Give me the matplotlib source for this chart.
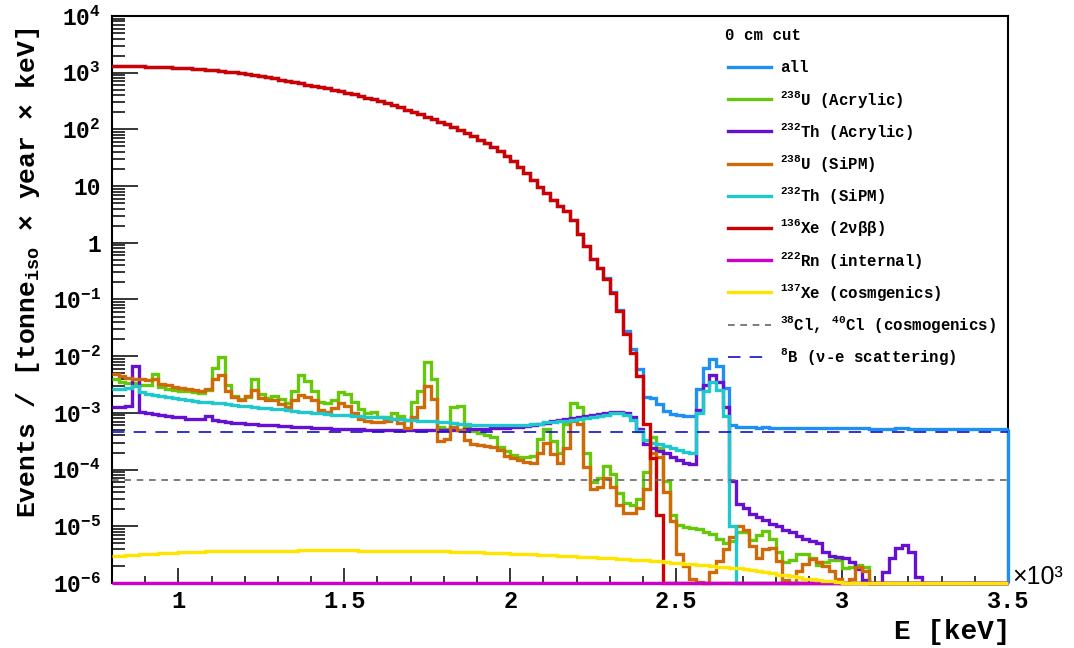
import numpy as np
import matplotlib
matplotlib.use("Agg")
import matplotlib.pyplot as plt
from matplotlib.lines import Line2D
from matplotlib.ticker import FixedLocator, MultipleLocator, FuncFormatter, LogLocator, NullFormatter

plt.rcParams['font.family'] = ['Liberation Mono', 'DejaVu Sans Mono']
plt.rcParams['font.weight'] = 'bold'
plt.rcParams['mathtext.fontset'] = 'custom'
plt.rcParams['mathtext.rm'] = 'Liberation Mono:bold'
plt.rcParams['mathtext.it'] = 'Liberation Mono:bold'
plt.rcParams['mathtext.bf'] = 'Liberation Mono:bold'
plt.rcParams['mathtext.default'] = 'rm'

# ---------------------------------------------------------------- binning (keV)
E_MIN, E_MAX, BIN_WIDTH = 800, 3500, 20
bin_edges = np.arange(E_MIN, E_MAX + BIN_WIDTH, BIN_WIDTH)
FLOOR = 1e-6

# ---------------------------------------------------------------- spectra
# events / (tonne_iso x year x keV), one value per 20 keV bin from 800 to 3500 keV
u238_acrylic_rate = [
    3.98e-3, 3.55e-3, 3.39e-3, 3.31e-3, 3.16e-3, 3.09e-3, 4.90e-3, 2.88e-3, 2.69e-3, 2.51e-3,
    2.45e-3, 2.40e-3, 2.34e-3, 2.24e-3, 2.51e-3, 6.3e-3, 9.5e-3, 3.16e-3, 2.0e-3, 1.74e-3,
    1.91e-3, 3.98e-3, 2.19e-3, 1.86e-3, 1.95e-3, 1.74e-3, 1.51e-3, 2.40e-3, 4.57e-3, 3.63e-3,
    2.40e-3, 1.58e-3, 1.48e-3, 1.66e-3, 2.29e-3, 2.19e-3, 1.58e-3, 1.17e-3, 1.0e-3, 1.02e-3,
    8.3e-4, 8.5e-4, 1.0e-3, 8.9e-4, 7.4e-4, 1.58e-3, 2.4e-3, 7.8e-3, 4.0e-3, 5.6e-4,
    5.2e-4, 1.26e-3, 1.32e-3, 5.6e-4, 4.7e-4, 4.4e-4, 4.0e-4, 3.7e-4, 2.5e-4, 2.1e-4,
    1.82e-4, 1.70e-4, 1.66e-4, 1.74e-4, 3.5e-4, 5.2e-4, 3.2e-4, 2.0e-4, 6.3e-4, 1.51e-3,
    1.26e-3, 2.0e-4, 6.0e-5, 7.1e-5, 1.17e-4, 8.3e-5, 3.8e-5, 2.6e-5, 2.4e-5, 3.0e-5,
    8.9e-5, 3.7e-4, 2.4e-4,
    6.3e-5, 1.58e-5, 1.05e-5, 9.8e-6, 9.3e-6, 8.9e-6, 7.9e-6, 7.2e-6, 6.0e-6, 5.0e-6, 5.6e-6, 7.9e-6,
    7.9e-6, 5.8e-6, 7.1e-6, 8.3e-6, 6.0e-6, 3.5e-6, 2.3e-6, 2.5e-6, 3.3e-6, 3.3e-6,
    2.8e-6, 2.1e-6, 2.3e-6, 2.5e-6, 2.5e-6, 1.82e-6, 1.9e-6, 2.1e-6, 1.95e-6,
] + [0.0] * 21

th232_acrylic_rate = [
    1.29e-3, 1.29e-3, 1.32e-3, 6.61e-3, 1.05e-3, 1.00e-3, 9.55e-4, 9.12e-4, 8.71e-4, 8.51e-4,
    8.32e-4, 7.94e-4, 7.76e-4, 7.94e-4, 8.71e-4, 7.41e-4, 7.08e-4, 6.92e-4, 6.76e-4, 6.61e-4,
    6.46e-4, 6.31e-4, 6.17e-4, 6.17e-4, 6.03e-4, 5.89e-4, 5.89e-4, 5.75e-4, 5.62e-4, 5.62e-4,
    5.50e-4, 5.37e-4, 5.37e-4, 5.25e-4, 5.25e-4, 5.13e-4, 5.13e-4, 5.13e-4, 5.01e-4, 5.01e-4,
    5.01e-4, 4.90e-4, 4.90e-4, 4.90e-4, 4.90e-4, 4.90e-4, 4.90e-4, 4.90e-4, 4.90e-4, 4.90e-4,
    5.01e-4, 5.01e-4, 5.01e-4, 5.13e-4, 5.13e-4, 5.25e-4, 5.25e-4, 5.37e-4, 5.37e-4, 5.50e-4,
    5.62e-4, 5.75e-4, 5.89e-4, 6.17e-4, 6.46e-4, 6.76e-4, 7.08e-4, 7.41e-4, 7.76e-4, 8.13e-4,
    8.32e-4, 8.71e-4, 9.12e-4, 9.55e-4, 1.00e-3, 1.02e-3, 1.05e-3, 1.00e-3, 8.32e-4, 5.25e-4,
    2.88e-4, 2.40e-4, 2.14e-4,
    1.95e-4, 1.70e-4, 1.48e-4, 1.29e-4, 1.26e-4, 1.12e-3, 3.16e-3, 4.68e-3, 3.55e-3, 1.29e-3, 6.3e-5, 2.51e-5,
    2.09e-5, 1.66e-5, 1.48e-5, 1.29e-5, 1.12e-5, 1.0e-5, 8.7e-6, 7.8e-6, 6.8e-6, 6.0e-6, 5.5e-6, 5.0e-6,
    3.5e-6, 3.0e-6, 2.9e-6, 2.75e-6, 2.3e-6, 1.74e-6, 1.12e-6, 0.0, 0.0, 1.58e-6,
    2.8e-6, 4.2e-6, 4.7e-6, 3.5e-6, 1.26e-6,
] + [0.0] * 13

u238_sipm_rate = [
    4.8e-3, 4.5e-3, 4.2e-3, 4.0e-3, 3.9e-3, 3.8e-3, 4.0e-3, 3.2e-3, 3.1e-3, 2.9e-3,
    2.75e-3, 2.63e-3, 2.5e-3, 2.4e-3, 2.63e-3, 4.0e-3, 4.7e-3, 2.4e-3, 1.9e-3, 1.7e-3,
    2.0e-3, 2.5e-3, 1.82e-3, 1.7e-3, 1.66e-3, 1.45e-3, 1.29e-3, 1.66e-3, 2.1e-3, 1.9e-3,
    1.66e-3, 1.12e-3, 1.05e-3, 1.2e-3, 1.51e-3, 1.32e-3, 1.0e-3, 7.9e-4, 7.2e-4, 6.9e-4,
    6.9e-4, 7.2e-4, 7.9e-4, 6.6e-4, 5.5e-4, 8.5e-4, 1.26e-3, 3.0e-3, 1.78e-3, 3.2e-4,
    3.5e-4, 5.6e-4, 5.0e-4, 3.3e-4, 2.8e-4, 2.7e-4, 2.6e-4, 2.5e-4, 2.2e-4, 1.74e-4,
    1.58e-4, 1.48e-4, 1.38e-4, 1.29e-4, 2.0e-4, 2.9e-4, 1.9e-4, 1.32e-4, 2.4e-4, 7.1e-4,
    6.3e-4, 1.12e-4, 4.5e-5, 5.0e-5, 7.1e-5, 5.0e-5, 2.4e-5, 1.7e-5, 1.7e-5, 2.1e-5,
    4.5e-5, 2.0e-4, 1.66e-4,
    4.0e-5, 1.26e-5, 3.2e-6, 2.0e-6, 1.2e-6, 1.05e-6, 0.0, 1.58e-6, 2.4e-6, 4.0e-6, 6.6e-6, 1.0e-5,
    8.7e-6, 4.5e-6, 2.8e-6, 4.0e-6, 4.2e-6, 2.4e-6, 1.12e-6, 0.0, 1.66e-6, 2.2e-6,
    2.6e-6, 2.3e-6, 2.0e-6, 1.66e-6, 1.2e-6, 0.0, 1.2e-6, 1.9e-6, 1.66e-6,
] + [0.0] * 21

th232_sipm_rate = [
    2.69e-3, 2.63e-3, 2.75e-3, 2.95e-3, 2.34e-3, 2.19e-3, 2.09e-3, 2.00e-3, 1.91e-3, 1.82e-3,
    1.74e-3, 1.66e-3, 1.62e-3, 1.58e-3, 1.55e-3, 1.51e-3, 1.48e-3, 1.41e-3, 1.38e-3, 1.35e-3,
    1.32e-3, 1.29e-3, 1.23e-3, 1.20e-3, 1.17e-3, 1.15e-3, 1.12e-3, 1.07e-3, 1.05e-3, 1.02e-3,
    1.00e-3, 9.8e-4, 9.5e-4, 9.3e-4, 9.1e-4, 9.1e-4, 8.9e-4, 8.7e-4, 8.5e-4, 8.3e-4,
    8.3e-4, 8.1e-4, 7.9e-4, 7.8e-4, 7.6e-4, 7.4e-4, 7.2e-4, 7.1e-4, 7.1e-4, 6.9e-4,
    6.8e-4, 6.6e-4, 6.5e-4, 6.3e-4, 6.2e-4, 6.0e-4, 6.0e-4, 6.0e-4, 6.0e-4, 6.0e-4,
    6.0e-4, 6.0e-4, 6.2e-4, 6.3e-4, 6.5e-4, 6.8e-4, 6.9e-4, 7.1e-4, 7.2e-4, 7.4e-4,
    7.8e-4, 8.1e-4, 8.5e-4, 8.9e-4, 9.3e-4, 9.8e-4, 1.0e-3, 9.3e-4, 7.4e-4, 4.7e-4,
    3.3e-4, 3.0e-4, 2.8e-4,
    2.6e-4, 2.45e-4, 2.24e-4, 2.04e-4, 2.0e-4, 1.0e-3, 2.4e-3, 3.55e-3, 2.5e-3, 8.9e-4, 1.0e-5,
] + [0.0] * 41

xe136_2vbb_rate = [
    1312, 1309, 1303, 1297, 1288, 1279, 1268, 1256, 1242, 1227,
    1211, 1194, 1175, 1156, 1138, 1109, 1079, 1047, 1014, 979,
    944, 908, 871, 832, 791, 755, 719, 685, 652, 619,
    587, 557, 527, 499, 471, 447, 419, 391, 364, 338,
    313, 290, 267, 245, 221, 202, 184, 167, 151, 137,
    123, 110, 97.7, 86.1, 75.5, 65.8, 56.9, 49.0, 42.0, 33.9,
    27.5, 21.9, 17.0, 12.9, 9.77, 7.41, 5.62, 4.47, 3.63, 2.51,
    1.45, 0.871, 0.525, 0.363, 0.234, 0.132, 0.0631, 0.0251, 0.0112, 0.00447,
    6.3e-4, 1.58e-4, 1.58e-5,
] + [0.0] * 52

rn222_rate = [0.0] * 135

xe137_rate = [
    2.95e-6, 3.02e-6, 3.09e-6, 3.16e-6, 3.24e-6, 3.27e-6, 3.31e-6, 3.35e-6, 3.39e-6, 3.43e-6,
    3.47e-6, 3.51e-6, 3.55e-6, 3.57e-6, 3.60e-6, 3.62e-6, 3.64e-6, 3.66e-6, 3.67e-6, 3.69e-6,
    3.70e-6, 3.71e-6, 3.72e-6,
    3.72e-6, 3.73e-6, 3.73e-6, 3.74e-6, 3.74e-6, 3.75e-6, 3.75e-6, 3.75e-6, 3.75e-6, 3.75e-6, 3.75e-6,
    3.75e-6, 3.75e-6, 3.75e-6, 3.74e-6, 3.74e-6, 3.74e-6, 3.73e-6, 3.73e-6, 3.72e-6, 3.72e-6, 3.71e-6,
    3.70e-6, 3.68e-6, 3.66e-6, 3.65e-6, 3.62e-6, 3.60e-6, 3.57e-6, 3.55e-6, 3.52e-6, 3.50e-6,
    3.48e-6, 3.45e-6, 3.42e-6, 3.39e-6, 3.35e-6, 3.31e-6, 3.27e-6, 3.24e-6, 3.20e-6, 3.16e-6,
    3.13e-6, 3.09e-6, 3.05e-6, 3.02e-6, 2.97e-6, 2.93e-6, 2.88e-6, 2.84e-6, 2.81e-6, 2.77e-6,
    2.73e-6, 2.69e-6, 2.64e-6, 2.59e-6, 2.55e-6, 2.50e-6, 2.45e-6, 2.40e-6,
    2.34e-6, 2.29e-6, 2.24e-6, 2.19e-6, 2.14e-6, 2.09e-6, 2.04e-6, 2.00e-6, 1.95e-6, 1.91e-6,
    1.86e-6, 1.82e-6, 1.78e-6, 1.70e-6, 1.62e-6, 1.55e-6, 1.48e-6, 1.41e-6, 1.38e-6, 1.32e-6,
    1.26e-6, 1.20e-6, 1.17e-6, 1.12e-6, 1.10e-6, 1.07e-6, 1.05e-6, 1.02e-6, 1.01e-6,
] + [1.0e-6] * 23

# flat backgrounds
cl_cosmogenic_rate = 6.6e-5
b8_solar_rate = 4.6e-4

component_rates = [u238_acrylic_rate, th232_acrylic_rate, u238_sipm_rate, th232_sipm_rate,
                   xe136_2vbb_rate, rn222_rate, xe137_rate]
total_rate = np.sum([np.asarray(r) for r in component_rates], axis=0) + cl_cosmogenic_rate + b8_solar_rate

# ---------------------------------------------------------------- labels & styles
legend_header = "0 cm cut"
legend_labels = [
    "all",
    "$^{238}$U (Acrylic)",
    "$^{232}$Th (Acrylic)",
    "$^{238}$U (SiPM)",
    "$^{232}$Th (SiPM)",
    "$^{136}$Xe (2νββ)",
    "$^{222}$Rn (internal)",
    "$^{137}$Xe (cosmgenics)",
    "$^{38}$Cl, $^{40}$Cl (cosmogenics)",
    "$^{8}$B (ν-e scattering)",
]
colors = {
    "all": "#1f8ff0",
    "u238_acr": "#66c80a",
    "th232_acr": "#6610d0",
    "u238_sipm": "#d06a08",
    "th232_sipm": "#1ec8cc",
    "xe136": "#d00000",
    "rn222": "#cc00cc",
    "xe137": "#ffe400",
    "cl": "#666666",
    "b8": "#1010cc",
}
x_tick_values = [1000, 1500, 2000, 2500, 3000, 3500]
y_tick_values = [1e-6, 1e-5, 1e-4, 1e-3, 1e-2, 1e-1, 1, 10, 1e2, 1e3, 1e4]
y_tick_labels = ["10$^{-6}$", "10$^{-5}$", "10$^{-4}$", "10$^{-3}$", "10$^{-2}$", "10$^{-1}$",
                 "1", "10", "10$^{2}$", "10$^{3}$", "10$^{4}$"]

CL_DASH = (0, (4.0, 3.4))
B8_DASH = (0, (7.5, 5.5))

# ---------------------------------------------------------------- figure
W, H = 1074, 648
fig = plt.figure(figsize=(W / 100, H / 100), dpi=100)
ax = fig.add_axes([112 / W, 1 - 583 / H, 896 / W, 567 / H])
ax.set_yscale("log")
ax.set_xlim(E_MIN, E_MAX)
ax.set_ylim(1e-6, 1e4)

hist_series = [
    (total_rate, colors["all"]),
    (u238_acrylic_rate, colors["u238_acr"]),
    (th232_acrylic_rate, colors["th232_acr"]),
    (u238_sipm_rate, colors["u238_sipm"]),
    (th232_sipm_rate, colors["th232_sipm"]),
    (xe136_2vbb_rate, colors["xe136"]),
    (rn222_rate, colors["rn222"]),
    (xe137_rate, colors["xe137"]),
]
HIST_LW = 2.4
for values, color in hist_series:
    vals = np.clip(np.asarray(values, dtype=float), FLOOR, None)
    ax.stairs(vals, bin_edges, baseline=None, color=color, linewidth=HIST_LW,
              clip_on=False, zorder=3)
    if color == colors["all"]:
        ax.vlines(bin_edges[-1], FLOOR, vals[-1], color=color, linewidth=HIST_LW,
                  clip_on=False, zorder=3)

ax.hlines(cl_cosmogenic_rate, E_MIN, E_MAX, colors=colors["cl"], linestyles=CL_DASH,
          linewidth=1.2, zorder=4)
ax.hlines(b8_solar_rate, E_MIN, E_MAX, colors=colors["b8"], linestyles=B8_DASH,
          linewidth=1.2, zorder=4)

# axes frame and ticks
for side in ax.spines.values():
    side.set_linewidth(1.5)
    side.set_zorder(2)

ax.xaxis.set_major_locator(FixedLocator(x_tick_values))
ax.xaxis.set_minor_locator(MultipleLocator(100))
ax.xaxis.set_major_formatter(FuncFormatter(lambda v, _: f"{v / 1000:g}"))
ax.yaxis.set_major_locator(FixedLocator(y_tick_values))
ax.yaxis.set_major_formatter(FuncFormatter(lambda v, i: y_tick_labels[y_tick_values.index(v)]
                                           if v in y_tick_values else ""))
ax.yaxis.set_minor_locator(LogLocator(base=10, subs=np.arange(2, 10), numticks=100))
ax.yaxis.set_minor_formatter(NullFormatter())

ax.tick_params(axis="x", which="major", direction="in", length=10.8, width=1.1,
               labelsize=17, pad=5, top=False)
ax.tick_params(axis="x", which="minor", direction="in", length=5.4, width=1.1, top=False)
ax.tick_params(axis="y", which="major", direction="in", length=18.7, width=1.1,
               labelsize=16.5, pad=8, right=False)
ax.tick_params(axis="y", which="minor", direction="in", length=9.4, width=1.1, right=False)
for lab in ax.get_xticklabels() + ax.get_yticklabels():
    lab.set_fontweight("bold")

# axis titles
fig.text(1010 / W, 1 - 632 / H, "E [keV]", ha="right", va="center", fontsize=20,
         fontweight="bold")
fig.text(28 / W, 1 - 28 / H, "Events / [tonne$_{\\rm iso}$ × year × keV]", rotation=90,
         ha="center", va="top", fontsize=19, fontweight="bold")
fig.text(1012 / W, 1 - 577 / H, "×10³", ha="left", va="center", fontsize=18,
         family=["Liberation Sans", "DejaVu Sans"], fontweight="normal")

# legend
fig.text(725 / W, 1 - 35 / H, legend_header, ha="left", va="center", fontsize=11.3,
         fontweight="bold")
legend_styles = [
    (colors["all"], "-", 2.4), (colors["u238_acr"], "-", 2.4), (colors["th232_acr"], "-", 2.4),
    (colors["u238_sipm"], "-", 2.4), (colors["th232_sipm"], "-", 2.4), (colors["xe136"], "-", 2.4),
    (colors["rn222"], "-", 2.4), (colors["xe137"], "-", 2.4), (colors["cl"], CL_DASH, 1.2),
    (colors["b8"], B8_DASH, 1.2),
]
for i, (label, (col, ls, lw)) in enumerate(zip(legend_labels, legend_styles)):
    yy = 1 - (67 + 32.2 * i) / H
    fig.add_artist(Line2D([728 / W, 771 / W], [yy, yy], transform=fig.transFigure,
                          color=col, linestyle=ls, linewidth=lw))
    fig.text(780 / W, yy, label, ha="left", va="center", fontsize=11.3, fontweight="bold")

fig.savefig("out.png", dpi=100)
